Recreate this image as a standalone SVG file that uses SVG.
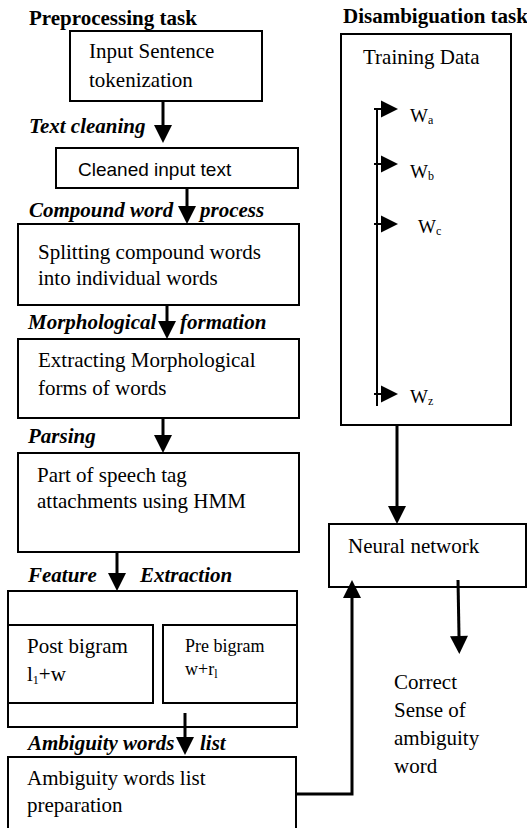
<svg xmlns="http://www.w3.org/2000/svg" width="527" height="828" viewBox="0 0 527 828">
<style>
.bx{fill:none;stroke:#000;stroke-width:2}
.sh{fill:none;stroke:#000;stroke-width:3}
.tn{stroke:#000;stroke-width:2;fill:none}
text{font-family:"Liberation Serif","Times New Roman",serif;font-size:21px;fill:#000}
.hd{font-weight:bold}
.lb{font-weight:bold;font-style:italic}
.sans{font-family:"Liberation Sans",Arial,sans-serif;font-size:19px}
.w{font-size:19px}
.sub{font-size:12px}
</style>
<defs>
<marker id="ah" markerUnits="userSpaceOnUse" markerWidth="18" markerHeight="18" refX="0" refY="9" orient="auto" overflow="visible">
<path d="M0,0 L18,9 L0,18 z" fill="#000"/>
</marker>
<path id="tri" d="M0,-8.5 L17,0 L0,8.5 z" fill="#000"/>
</defs>
<rect width="527" height="828" fill="#fff"/>
<text class="hd" x="29" y="25">Preprocessing task</text>
<text class="hd" x="343" y="23">Disambiguation task</text>

<g id="input">
<rect class="bx" x="70" y="31" width="192" height="70"/>
<text x="89" y="58">Input Sentence</text>
<text x="89" y="87">tokenization</text>
</g>
<g id="cleaned">
<rect class="bx" x="56" y="148" width="242" height="40"/>
<text class="sans" x="78" y="176">Cleaned input text</text>
</g>
<g id="splitting">
<rect class="bx" x="18" y="224" width="281" height="81"/>
<text x="38" y="259">Splitting compound words</text>
<text x="38" y="285">into individual words</text>
</g>
<g id="morph">
<rect class="bx" x="18" y="339" width="281" height="79"/>
<text x="38" y="367">Extracting Morphological</text>
<text x="38" y="395">forms of words</text>
</g>
<g id="pos">
<rect class="bx" x="18" y="453" width="281" height="99"/>
<text x="37" y="482">Part of speech tag</text>
<text x="37" y="508">attachments using HMM</text>
</g>
<g id="features">
<rect class="bx" x="8" y="591" width="289" height="136"/>
<rect class="bx" x="8" y="625" width="145" height="78"/>
<rect class="bx" x="163" y="625" width="134" height="78"/>
<text x="27" y="653">Post bigram</text>
<text x="27" y="681">l<tspan class="sub" dy="3">1</tspan><tspan dy="-3">+w</tspan></text>
<text x="185" y="652" style="font-size:18px">Pre bigram</text>
<text x="185" y="675" style="font-size:18px">w+r<tspan class="sub" dy="3">l</tspan></text>
</g>
<g id="ambiguity">
<rect class="bx" x="8" y="757" width="288" height="100"/>
<text x="27" y="785">Ambiguity words list</text>
<text x="27" y="812">preparation</text>
</g>
<g id="training">
<rect class="bx" x="341" y="34" width="170" height="391"/>
<text x="363" y="64">Training Data</text>
<line class="tn" x1="377" y1="108" x2="377" y2="406"/>
<line class="tn" x1="374" y1="109" x2="382" y2="109"/>
<line class="tn" x1="374" y1="164" x2="382" y2="164"/>
<line class="tn" x1="374" y1="224" x2="382" y2="224"/>
<line class="tn" x1="374" y1="394" x2="382" y2="394"/>
<use href="#tri" x="381" y="109"/>
<use href="#tri" x="381" y="164"/>
<use href="#tri" x="381" y="224"/>
<use href="#tri" x="381" y="394"/>
<text class="w" x="410" y="122">W<tspan class="sub" dy="2">a</tspan></text>
<text class="w" x="410" y="178">W<tspan class="sub" dy="2">b</tspan></text>
<text class="w" x="418" y="233">W<tspan class="sub" dy="2">c</tspan></text>
<text class="w" x="410" y="403">W<tspan class="sub" dy="2">z</tspan></text>
</g>
<g id="neural">
<rect class="bx" x="329" y="524" width="197" height="63"/>
<text x="348" y="553">Neural network</text>
</g>
<g id="output">
<text x="394" y="689">Correct</text>
<text x="394" y="717">Sense of</text>
<text x="394" y="745">ambiguity</text>
<text x="394" y="773">word</text>
</g>
<g id="labels">
<text class="lb" x="29" y="133">Text cleaning</text>
<text class="lb" x="29" y="217">Compound word</text>
<text class="lb" x="200" y="217">process</text>
<text class="lb" x="28" y="329">Morphological</text>
<text class="lb" x="180" y="329">formation</text>
<text class="lb" x="28" y="443">Parsing</text>
<text class="lb" x="28" y="582">Feature</text>
<text class="lb" x="140" y="582">Extraction</text>
<text class="lb" x="28" y="750">Ambiguity words</text>
<text class="lb" x="200" y="750">list</text>
</g>
<g id="connectors">
<line class="sh" x1="163" y1="101" x2="163" y2="125" marker-end="url(#ah)"/>
<line class="sh" x1="187" y1="188" x2="187" y2="206" marker-end="url(#ah)"/>
<line class="sh" x1="167" y1="305" x2="167" y2="321" marker-end="url(#ah)"/>
<line class="sh" x1="163" y1="418" x2="163" y2="435" marker-end="url(#ah)"/>
<line class="sh" x1="117" y1="552" x2="117" y2="573" marker-end="url(#ah)"/>
<line class="sh" x1="185" y1="713" x2="185" y2="737" marker-end="url(#ah)"/>
<line class="sh" x1="397" y1="425" x2="397" y2="506" marker-end="url(#ah)"/>
<polyline class="sh" points="296,794 352,794 352,598" marker-end="url(#ah)"/>
<line class="sh" x1="458" y1="580" x2="459" y2="636" marker-end="url(#ah)"/>
</g>
</svg>
